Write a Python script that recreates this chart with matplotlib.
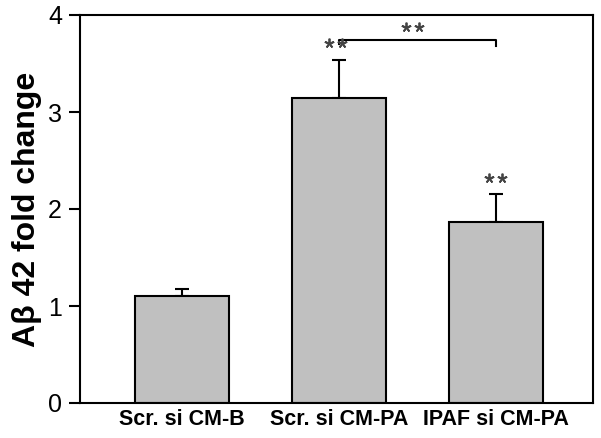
import matplotlib.pyplot as plt
import numpy as np

plt.rcParams['font.family'] = ['Liberation Sans', 'DejaVu Sans']

groups = ["Scr. si CM-B", "Scr. si CM-PA", "IPAF si CM-PA"]
means = [1.10, 3.14, 1.87]
errors = [0.08, 0.40, 0.28]
has_star = [False, True, True]


def draw_stars(ax, xc, yc):
    # two small asterisks side by side
    ax.plot([xc - 0.04, xc + 0.04], [yc, yc], linestyle="none",
            marker=(5, 2, 0), markersize=7, mew=1.3, color="#444444", zorder=3)


fig = plt.figure(figsize=(6.01, 4.38), dpi=100)
ax = fig.add_axes([80 / 601, 35 / 438, 513 / 601, 388 / 438])

x = np.arange(len(groups))
ax.bar(x, means, width=0.6, color="#c0c0c0", edgecolor="black", linewidth=1.5, zorder=2)
ax.errorbar(x, means, yerr=[np.zeros(len(errors)), errors], fmt="none",
            ecolor="black", elinewidth=1.5, capsize=5, capthick=1.5, zorder=1)

for i in range(len(groups)):
    if has_star[i]:
        draw_stars(ax, x[i] - (0.02 if i == 1 else 0.0), means[i] + errors[i] + 0.17)

# bracket between group 2 and 3
yb = 3.74
ax.plot([x[1], x[1], x[2], x[2]], [yb - 0.04, yb, yb, yb - 0.06], color="black", lw=1.5)
draw_stars(ax, (x[1] + x[2]) / 2 - 0.03, yb + 0.14)

ax.set_xlim(-0.65, 2.62)
ax.set_ylim(0, 4)
ax.set_yticks([0, 1, 2, 3, 4])
ax.set_xticks(x)
ax.set_xticklabels(groups, fontsize=15.5, fontweight="bold")
ax.tick_params(axis="y", direction="out", length=8, width=1.5, labelsize=18, pad=5)
ax.tick_params(axis="x", direction="in", length=3, width=1.5, pad=4)
for sp in ax.spines.values():
    sp.set_linewidth(1.5)
ax.set_ylabel("Aβ 42 fold change", fontsize=23, fontweight="bold", labelpad=4)

fig.savefig("out.png", dpi=100)
